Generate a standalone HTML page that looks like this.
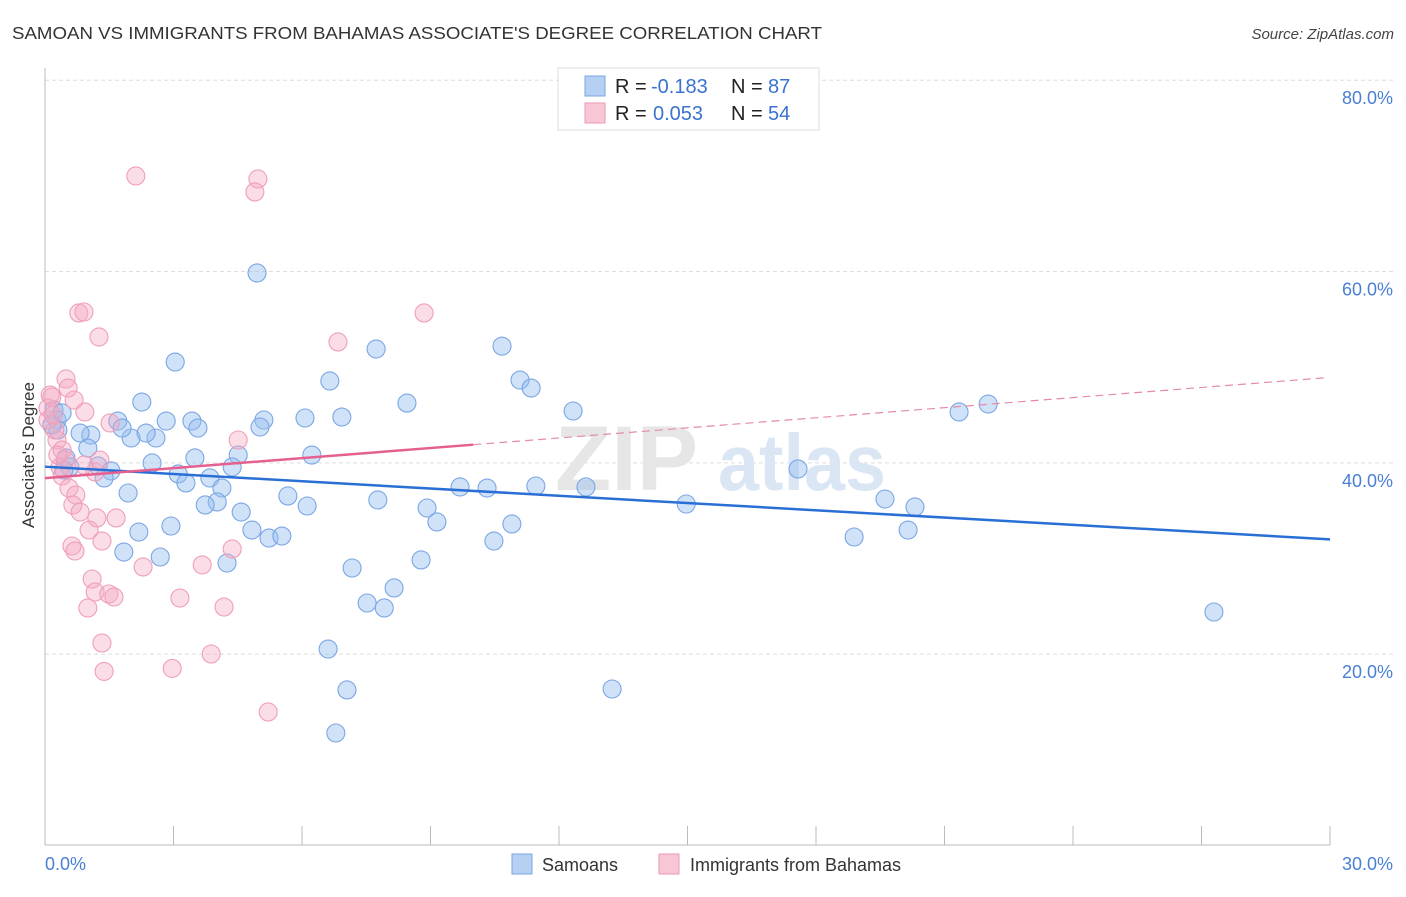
<!DOCTYPE html>
<html><head><meta charset="utf-8"><style>
body{margin:0;background:#fff;font-family:"Liberation Sans",sans-serif;}
svg text{font-family:"Liberation Sans",sans-serif;}
</style></head><body>
<svg width="1406" height="892" viewBox="0 0 1406 892" xmlns="http://www.w3.org/2000/svg">
<text x="12" y="39" font-size="17.5" fill="#333" textLength="810" lengthAdjust="spacingAndGlyphs">SAMOAN VS IMMIGRANTS FROM BAHAMAS ASSOCIATE'S DEGREE CORRELATION CHART</text>
<text x="1394" y="39" font-size="15" fill="#444" font-style="italic" text-anchor="end">Source: ZipAtlas.com</text>
<g id="grid"></g>
<text x="555" y="490" font-size="92" fill="#e6e6e6" font-family="Liberation Serif" font-weight="bold">ZIP</text>
<text x="718" y="490" font-size="80" fill="#dbe6f4" font-weight="bold" textLength="168" lengthAdjust="spacingAndGlyphs">atlas</text>
<g id="axes"></g>
<g id="pts"></g>
<g id="lines"></g>
<text transform="translate(34,455) rotate(-90)" font-size="17" fill="#333" text-anchor="middle">Associate's Degree</text>
<text x="45" y="870" font-size="18" fill="#4a7fd4">0.0%</text>
<text x="1393" y="870" font-size="18" fill="#4a7fd4" text-anchor="end">30.0%</text>
<g>
<rect x="558" y="68" width="261" height="62" fill="#fff" stroke="#ddd"/>
<rect x="585" y="76" width="20" height="20" fill="#b6d0f3" stroke="#7aa6e3"/>
<rect x="585" y="103" width="20" height="20" fill="#f9c6d5" stroke="#eb9ab3"/>
<text x="615" y="93" font-size="20" fill="#222">R = <tspan x="651" fill="#3a73d0">-0.183</tspan><tspan x="731">N = </tspan><tspan x="768" fill="#3a73d0">87</tspan></text>
<text x="615" y="120" font-size="20" fill="#222">R = <tspan x="653" fill="#3a73d0">0.053</tspan><tspan x="731">N = </tspan><tspan x="768" fill="#3a73d0">54</tspan></text>
</g>
<g>
<rect x="512" y="854" width="20" height="20" fill="#b6d0f3" stroke="#7aa6e3"/>
<text x="542" y="871" font-size="18" fill="#333">Samoans</text>
<rect x="659" y="854" width="20" height="20" fill="#f9c6d5" stroke="#eb9ab3"/>
<text x="690" y="871" font-size="18" fill="#333">Immigrants from Bahamas</text>
</g>
</svg>
<script>
const yTicks=[20,40,60,80];
const yTickLabels=["20.0%","40.0%","60.0%","80.0%"];
const xTicks=[0,3,6,9,12,15,18,21,24,27,30];
const samoanX=[4.95,3.04,7.73,10.67,6.65,11.09,11.35,8.45,12.33,2.26,2.83,3.43,3.57,1.70,5.11,5.02,6.07,6.93,21.34,22.02,2.01,2.59,2.36,1.07,0.82,6.23,4.51,3.50,2.50,1.24,1.54,1.38,3.11,3.29,3.85,4.13,4.37,4.02,3.74,4.58,1.94,5.67,6.12,7.77,8.92,9.15,9.69,10.32,11.46,12.63,14.97,17.58,19.61,20.31,18.89,20.15,10.9,10.48,4.83,5.23,5.53,2.19,2.94,1.84,2.69,4.25,7.17,8.78,8.15,7.52,7.92,6.61,7.05,13.24,6.79,27.29,0.21,0.28,0.30,0.16,0.40,0.58,0.44,0.49,1.00,1.80];
const samoanY=[59.85,50.54,51.9,52.2,48.56,48.66,47.82,46.25,45.42,46.36,44.37,44.37,43.64,44.37,44.48,43.75,44.69,44.79,45.32,46.15,42.6,42.6,43.12,42.91,43.12,40.82,40.82,40.51,39.99,39.68,39.16,38.42,38.84,37.9,38.42,37.37,39.57,35.91,35.6,34.86,36.85,36.54,35.49,36.12,35.28,33.82,37.48,37.37,37.58,37.48,35.7,39.36,36.22,35.39,32.25,32.98,33.61,31.83,32.98,32.14,32.35,32.77,33.4,30.68,30.16,29.53,29.01,29.85,26.92,25.35,24.83,20.54,16.26,16.36,11.76,24.41,45.53,44.48,43.43,43.96,45.22,39.57,39.26,40.51,41.55,43.64];
const bahamasX=[2.12,4.97,4.90,0.79,0.91,1.26,8.85,6.84,0.49,0.54,0.68,0.93,0.16,0.07,0.23,0.28,0.40,1.52,4.51,0.35,1.17,0.40,0.56,0.72,0.65,0.82,1.21,1.66,1.03,1.33,0.63,0.70,4.37,3.67,2.29,1.10,1.17,1.49,1.61,3.15,1.00,4.18,1.33,3.88,1.38,2.97,5.21,0.07,0.12,0.19,0.47,0.30,1.28,0.91];
const bahamasY=[69.99,69.68,68.32,55.67,55.77,53.16,55.67,52.64,48.77,47.82,46.57,45.32,46.88,45.74,43.43,42.39,41.34,44.17,42.39,39.57,39.05,38.63,37.37,36.64,35.6,34.86,34.24,34.24,32.98,31.83,31.31,30.79,31.0,29.33,29.12,27.86,26.5,26.29,25.98,25.87,24.83,24.93,21.17,20.02,18.2,18.51,13.96,44.48,47.09,45.0,40.3,40.82,40.3,39.78];
const samoanTrend=[39.6,32.0];
const bahamasTrend=[38.4,41.9,48.9];
const NS="http://www.w3.org/2000/svg";
const X=v=>45+v*(1285/30);
const Y=v=>845.5-v*9.566;
function mk(tag,attrs,parent){const e=document.createElementNS(NS,tag);for(const k in attrs)e.setAttribute(k,attrs[k]);parent.appendChild(e);return e;}
const grid=document.getElementById('grid');
yTicks.forEach((t,i)=>{
 const l=mk('line',{x1:45,x2:1393,y1:Y(t),y2:Y(t),stroke:'#ddd','stroke-dasharray':'4,3'},grid);
 
 
 const tx=mk('text',{x:1393,y:Y(t)+24,'font-size':18,fill:'#4a7fd4','text-anchor':'end'},grid);
 tx.textContent=yTickLabels[i];
 
 
});
const axes=document.getElementById('axes');
const ya=mk('line',{x1:45,x2:45,y1:68,y2:845,stroke:'#bbb'},axes);


const xa=mk('line',{x1:45,x2:1330,y1:845,y2:845,stroke:'#bbb'},axes);


xTicks.forEach(t=>{
 const tk=mk('line',{x1:X(t),x2:X(t),y1:826,y2:845,stroke:'#bbb'},axes);
 
 
});
const pts=document.getElementById('pts');
samoanX.forEach((x,i)=>{
 const c=mk('circle',{cx:X(x),cy:Y(samoanY[i]),r:9,fill:'rgba(150,190,240,0.45)',stroke:'#7ba6e4','stroke-width':1.1},pts);
 
 
});
bahamasX.forEach((x,i)=>{
 const c=mk('circle',{cx:X(x),cy:Y(bahamasY[i]),r:9,fill:'rgba(245,170,195,0.4)',stroke:'#ef9fb9','stroke-width':1.1},pts);
 
 
});
const lines=document.getElementById('lines');
const s=mk('line',{x1:X(0),y1:Y(samoanTrend[0]),x2:X(30),y2:Y(samoanTrend[1]),stroke:'#2a6fd6','stroke-width':2.5},lines);


const b1=mk('line',{x1:X(0),y1:Y(bahamasTrend[0]),x2:X(10),y2:Y(bahamasTrend[1]),stroke:'#e5608e','stroke-width':2.5},lines);


const b2=mk('line',{x1:X(10),y1:Y(bahamasTrend[1]),x2:X(29.9),y2:Y(bahamasTrend[2]),stroke:'#e58aa8','stroke-width':1.2,'stroke-dasharray':'8,5'},lines);


</script>
</body></html>
